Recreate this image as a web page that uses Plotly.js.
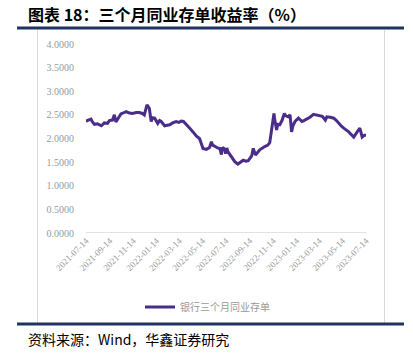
<!DOCTYPE html>
<html><head><meta charset="utf-8">
<script src="https://cdn.plot.ly/plotly-3.0.1.min.js"></script>
<style>html,body{margin:0;padding:0;background:#fff}#c{width:413px;height:356px}</style>
</head><body><div id="c"></div>
<script>
const dates = ["2021-07-14","2021-07-17","2021-07-27","2021-07-30","2021-08-05","2021-08-13","2021-08-23","2021-08-31","2021-09-08","2021-09-13","2021-09-21","2021-09-23","2021-09-26","2021-09-30","2021-10-06","2021-10-13","2021-10-19","2021-10-27","2021-11-04","2021-11-12","2021-11-22","2021-11-30","2021-12-08","2021-12-13","2021-12-20","2021-12-26","2021-12-31","2022-01-03","2022-01-09","2022-01-17","2022-01-22","2022-01-26","2022-02-04","2022-02-12","2022-02-17","2022-02-25","2022-03-06","2022-03-13","2022-03-19","2022-03-25","2022-04-01","2022-04-10","2022-04-19","2022-04-28","2022-05-06","2022-05-10","2022-05-15","2022-05-24","2022-06-01","2022-06-06","2022-06-09","2022-06-14","2022-06-22","2022-06-28","2022-07-02","2022-07-05","2022-07-11","2022-07-13","2022-07-16","2022-07-19","2022-07-28","2022-08-06","2022-08-14","2022-08-21","2022-08-28","2022-09-04","2022-09-10","2022-09-19","2022-09-23","2022-09-29","2022-10-05","2022-10-10","2022-10-23","2022-10-31","2022-11-05","2022-11-10","2022-11-16","2022-11-18","2022-11-23","2022-11-26","2022-12-01","2022-12-07","2022-12-13","2022-12-17","2022-12-23","2022-12-28","2023-01-01","2023-01-05","2023-01-10","2023-01-19","2023-01-28","2023-02-02","2023-02-09","2023-02-18","2023-02-27","2023-03-06","2023-03-12","2023-03-22","2023-03-30","2023-04-03","2023-04-12","2023-04-21","2023-04-28","2023-05-04","2023-05-11","2023-05-17","2023-05-24","2023-05-30","2023-06-06","2023-06-12","2023-06-21","2023-06-28","2023-07-04","2023-07-10","2023-07-14"];
const yields = [2.36,2.38,2.41,2.36,2.30,2.31,2.27,2.33,2.32,2.38,2.39,2.44,2.50,2.35,2.44,2.52,2.54,2.57,2.54,2.53,2.55,2.55,2.53,2.50,2.71,2.64,2.36,2.44,2.43,2.32,2.38,2.36,2.27,2.28,2.29,2.33,2.36,2.34,2.37,2.36,2.29,2.22,2.14,2.05,2.00,1.90,1.79,1.77,1.81,1.93,1.86,1.84,1.80,1.79,1.66,1.81,1.77,1.68,1.80,1.72,1.61,1.51,1.46,1.50,1.54,1.52,1.53,1.63,1.79,1.65,1.70,1.76,1.83,1.86,1.91,2.18,2.53,2.40,2.18,2.30,2.29,2.38,2.53,2.48,2.46,2.50,2.14,2.28,2.36,2.43,2.36,2.38,2.41,2.45,2.51,2.50,2.50,2.47,2.39,2.46,2.45,2.43,2.38,2.32,2.26,2.22,2.18,2.14,2.08,2.03,2.14,2.22,2.03,2.07,2.07];
const tickDates = ["2021-07-14","2021-09-14","2021-11-14","2022-01-14","2022-03-14","2022-05-14","2022-07-14","2022-09-14","2022-11-14","2023-01-14","2023-03-14","2023-05-14","2023-07-14"];
const seriesName = "银行三个月同业存单";
const titleText = "图表 18：三个月同业存单收益率（%）";
const sourceText = "资料来源：Wind，华鑫证券研究";

const W=413,H=356,L=86,R=47,T=44,B=123;
const pw=W-L-R, ph=H-T-B;
const px=x=>(x-L)/pw, py=y=>(H-B-y)/ph;

const trace = {x:dates,y:yields,type:'scatter',mode:'lines',name:seriesName,
  line:{color:'#4a2d88',width:3}};

const layout = {
  width:W,height:H,margin:{l:L,r:R,t:T,b:B},
  paper_bgcolor:'#fff',plot_bgcolor:'#fff',
  font:{family:'"Noto Sans CJK SC", sans-serif'},
  xaxis:{type:'date',range:[dates[0],dates[dates.length-1]],tickvals:tickDates,ticktext:tickDates,
    tickangle:-45,showgrid:false,zeroline:false,showline:false,ticks:'',
    tickfont:{family:'"Liberation Serif", serif',size:9,color:'#999999'}},
  yaxis:{range:[0,4],dtick:0.5,tick0:0,tickformat:'.4f',showgrid:false,zeroline:false,showline:false,
    ticks:'outside',ticklen:9,tickcolor:'rgba(0,0,0,0)',
    tickfont:{family:'"Liberation Serif", serif',size:10,color:'#999999'}},
  showlegend:true,
  legend:{orientation:'h',x:px(140),xanchor:'left',y:py(307),yanchor:'middle',
    font:{size:10,color:'#999999'},itemwidth:30,bgcolor:'rgba(0,0,0,0)'},
  shapes:[
    {type:'line',xref:'paper',yref:'y',x0:0,x1:1,y0:0,y1:0,line:{color:'#d9d9d9',width:1.5}},
    {type:'line',xref:'paper',yref:'paper',x0:px(37.5),x1:px(37.5),y0:py(30),y1:py(323),line:{color:'#d9d9d9',width:1}},
    {type:'line',xref:'paper',yref:'paper',x0:px(384.5),x1:px(384.5),y0:py(30),y1:py(323),line:{color:'#d9d9d9',width:1}},
    {type:'line',xref:'paper',yref:'paper',x0:px(17),x1:px(404),y0:py(28),y1:py(28),line:{color:'#1f3560',width:3}},
    {type:'line',xref:'paper',yref:'paper',x0:px(17),x1:px(404),y0:py(324),y1:py(324),line:{color:'#1f3560',width:3}}
  ],
  annotations:[
    {text:'<b>'+titleText+'</b>',xref:'paper',yref:'paper',x:px(26),y:py(14),xanchor:'left',yanchor:'middle',
      showarrow:false,font:{size:16,color:'#000'}},
    {text:sourceText,xref:'paper',yref:'paper',x:px(26),y:py(339),xanchor:'left',yanchor:'middle',
      showarrow:false,font:{size:14,color:'#000'}}
  ]
};
Plotly.newPlot('c',[trace],layout,{displayModeBar:false,staticPlot:true});
</script></body></html>
